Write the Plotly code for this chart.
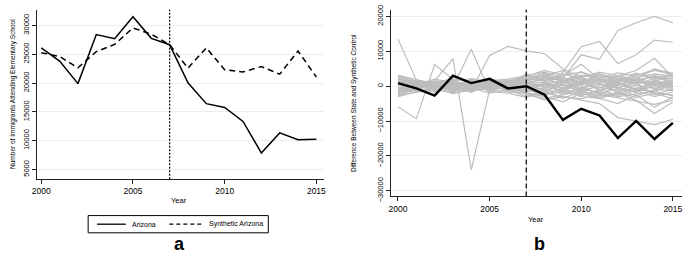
import plotly.graph_objects as go

years = list(range(2000, 2016))

arizona = [26100, 23800, 19900, 28400, 27700, 31500, 27750, 26650,
           20050, 16430, 15770, 13350, 7880, 11360, 10160, 10270]
synthetic_arizona = [25270, 24600, 22640, 25440, 26700, 29560, 28460, 26650,
                     22580, 26100, 22300, 21920, 22860, 21540, 25550, 21040]

arizona_gap = [900, -640, -2700, 3000, 900, 2100, -640, 0,
               -2450, -9650, -6490, -8380, -14860, -9920, -15140, -10540]

placebo_gaps = [
    [13500, 1800, -500, 1000, -800, 500, 1200, 2500, 3000, 1500, -500, 2000, 1000, -1500, 500, 1500],
    [-5900, -9300, 6200, 2000, -1500, 800, -500, -2000, -3000, -4500, -2000, -3500, -5000, -2500, -6000, -3000],
    [2500, 500, 1500, 7900, -24000, -1000, 1500, 2000, 1500, -1000, 2500, 1000, -2000, 1500, 3000, 2000],
    [1500, 200, -1000, -200, 10600, -1500, 800, 3000, 4000, 2500, 1000, 3500, 2000, 3000, 4500, 3500],
    [2000, 1000, 500, -500, -1200, 8800, 11400, 10100, 9300, 5000, 2500, 4000, 3000, 2000, 5000, 3000],
    [-1500, 500, 2000, 1000, 500, -500, 1000, 1000, 0, 4000, 11300, 12800, 6500, 9000, 13200, 12600],
    [1000, -500, 500, 1500, 0, 1000, 1500, 2000, 2000, 2300, 9000, 7700, 16000, 18200, 20000, 18200],
    [500, 1000, -500, 1200, 800, -300, 500, 3500, 1500, 3000, 6300, 2000, 3000, 3500, 2500, 3500],
    [-1000, 500, 1000, -500, 1500, 1000, -1000, 500, 2500, 1500, 3000, 2500, 3000, 4500, 8000, 2500],
    [-2500, -1000, 500, -1500, -500, -2000, -1000, -3000, -2000, -3000, -4000, -5000, -9000, -9900, -11000, -9500],
    [3000, 1500, 1000, -1000, 2000, 1000, -1500, -1000, -2500, -1500, -3000, -3500, -2000, -4000, -7800, -4500],
    [2800, 1200, 300, -800, 400, -600, 200, 1500, 2500, 1800, 3200, 2000, 1500, 2500, 3500, 2800],
    [-3000, -1500, -200, 600, -300, 400, -800, -1200, -2000, -1000, -2500, -1800, -3000, -2200, -1500, -2800],
    [1500, 800, -600, 1200, 200, 900, -400, 600, 1200, -500, 800, 1500, 600, 1200, 400, 900],
    [-1200, 300, 900, -400, 1100, -200, 500, -600, -1500, 500, -800, -300, -1200, 300, -600, -200],
    [2200, 600, -1200, 1800, -900, 1300, 300, 2400, 3500, 2000, 1200, 3000, 2200, 1800, 2600, 1500],
    [-2000, -600, 400, -1500, 800, -1100, 600, -2500, -3500, -2500, -1200, -2800, -1800, -3200, -2000, -3600],
    [600, -300, 1300, 500, -700, 300, -1200, 300, 600, -1500, 1800, 500, -400, 800, 1500, -300],
    [-500, 1000, -800, -900, 600, -1400, 900, -300, -700, 1200, -1000, -1600, 1000, -900, -300, 600],
    [3200, 1800, 600, 2000, 1300, 600, 1500, 2800, 4500, 3200, 4000, 2500, 3800, 3000, 4800, 3700],
    [-2600, -1800, -900, -2000, -1200, -700, -1600, -2000, -4000, -3000, -3600, -2400, -3400, -4200, -5200, -4000],
    [1000, -800, 500, 2500, 1500, -500, 200, 1000, 1800, 3500, 2000, 1200, 2800, 1500, 600, 1800],
    [-800, 400, -1500, -300, -1800, 800, -400, -800, 400, -2000, -600, 800, -1500, -600, 1000, -1400],
    [400, 1500, 1000, -1200, 300, 1700, -700, 1800, -500, 900, 2500, -1000, 1400, 2500, 200, 1100],
    [-1600, -400, 1500, 800, -1000, -800, 1300, -1500, 1000, -800, 400, 1800, -800, -1700, 1800, 300],
    [2500, 300, -300, 1500, 2200, 1200, -300, 500, -1200, 600, -1800, 400, 1200, -1000, -1500, 500],
    [-2200, 700, 200, -2200, -500, 200, 1800, -400, 800, -1800, 1400, -1200, 200, 1000, -2500, -800],
    [1800, -1200, 1500, 300, 1800, -1800, 600, 2000, 2800, 4500, 1500, 2000, 900, 3800, 2000, 2400],
    [-400, -1500, -1000, 1600, -1600, 1000, -1500, -1800, -2800, -500, -2800, -1000, -2600, -1200, -3000, -1600],
    [900, 200, 700, -600, 900, 400, 1000, 2200, 1500, 2600, 500, 3400, 1800, 600, 2200, 3000],
    [-1000, 100, -400, 700, -200, -300, -200, -1000, -600, -2400, -400, -2200, -600, -2800, -1000, -1200],
    [200, 900, 300, -200, 600, 1500, 2000, 3000, 1800, 800, 4200, 1000, 2400, 1200, 3000, 600],
    [-1800, -1000, 1200, -1800, 1200, -1500, -2000, -3200, -1200, -3500, -1500, -3200, -2200, -500, -2000, -2500],
    [2000, 1400, -100, 300, -1300, 2000, 1200, -500, 300, 1800, 1000, -500, 2000, 1000, 1200, 200],
    [-300, -700, -1800, 1000, 300, -1000, 200, 1200, -300, 200, -1200, 2000, -300, -1800, 200, -600],
    [1300, 500, 800, -1400, -400, 600, -900, -1500, -500, 1500, 200, -2500, 500, 2000, -800, 1000],
    [-2800, -200, -600, 400, 1000, -600, 700, 1500, 3800, 1000, 2800, 3500, 1000, -1000, 1200, 3800],
]

series_names = ["Arizona", "Synthetic Arizona"]
treatment_year = 2007
xticks = [2000, 2005, 2010, 2015]
yticks_a = [5000, 10000, 15000, 20000, 25000, 30000]
yticks_b = [-30000, -20000, -10000, 0, 10000, 20000]

W, H = 685, 257
FONT = "Liberation Sans, Arial, sans-serif"
GRID = "#e6eef0"

fig = go.Figure()

# Panel a
fig.add_trace(go.Scatter(x=years, y=arizona, mode="lines", name=series_names[0],
                         showlegend=False,
                         line=dict(color="black", width=1.5), xaxis="x", yaxis="y"))
fig.add_trace(go.Scatter(x=years, y=synthetic_arizona, mode="lines", name=series_names[1],
                         showlegend=False,
                         line=dict(color="black", width=1.5, dash="6px,4px"), xaxis="x", yaxis="y"))

# Panel b
for g in placebo_gaps:
    fig.add_trace(go.Scatter(x=years, y=g, mode="lines", showlegend=False,
                             line=dict(color="#bdbdbd", width=1.2), xaxis="x2", yaxis="y2",
                             hoverinfo="skip"))
fig.add_trace(go.Scatter(x=years, y=arizona_gap, mode="lines", showlegend=False,
                         line=dict(color="black", width=2.4), xaxis="x2", yaxis="y2"))

def px_x(p):
    return p / W

def px_y(p):
    return 1 - p / H

axis_common = dict(showline=True, linecolor="#222", linewidth=1, ticks="outside",
                   ticklen=4, tickcolor="#222", zeroline=False)

fig.update_layout(
    width=W, height=H, margin=dict(l=0, r=0, t=0, b=0),
    paper_bgcolor="white", plot_bgcolor="white",
    font=dict(family=FONT, color="black"),
    xaxis=dict(domain=[px_x(32), px_x(322)], range=[1999.75, 2015.4], tickvals=xticks,
               showgrid=False, tickfont=dict(size=8.5, color="black"), anchor="y", **axis_common),
    yaxis=dict(domain=[px_y(182), px_y(5)], range=[3330, 32700], tickvals=yticks_a,
               tickformat="d",
               showgrid=True, gridcolor=GRID, tickangle=-90, tickfont=dict(size=7.5, color="black"),
               anchor="x", **axis_common),
    xaxis2=dict(domain=[px_x(390), px_x(684)], range=[1999.62, 2015.5], tickvals=xticks,
                showgrid=False, tickfont=dict(size=8.5, color="black"), anchor="y2", **axis_common),
    yaxis2=dict(domain=[px_y(200), px_y(5)], range=[-31600, 21900], tickvals=yticks_b,
                tickformat="d",
                showgrid=True, gridcolor=GRID, tickangle=-90, tickfont=dict(size=7.5, color="black"),
                anchor="x2", **axis_common),
    showlegend=False,
)

fig.add_shape(type="line", xref="x", yref="y domain", x0=treatment_year, x1=treatment_year,
              y0=0, y1=1, line=dict(color="black", width=1.2, dash="2px,1.5px"))
fig.add_shape(type="line", xref="x2", yref="y2 domain", x0=treatment_year, x1=treatment_year,
              y0=0, y1=1, line=dict(color="black", width=1.2, dash="5px,3px"))

# Legend box for panel a (Stata style)
fig.add_shape(type="rect", xref="paper", yref="paper",
              x0=px_x(84), x1=px_x(266), y0=px_y(238), y1=px_y(220),
              line=dict(color="black", width=1), fillcolor="white")
fig.add_shape(type="line", xref="paper", yref="paper",
              x0=px_x(93), x1=px_x(122), y0=px_y(229), y1=px_y(229),
              line=dict(color="black", width=1.3))
fig.add_shape(type="line", xref="paper", yref="paper",
              x0=px_x(166), x1=px_x(200), y0=px_y(229), y1=px_y(229),
              line=dict(color="black", width=1.3, dash="4px,3px"))

annots = [
    dict(text="Number of Immigrants Attending Elementary School", x=px_x(8), y=px_y(93),
         textangle=-90, font=dict(size=6.5)),
    dict(text="Difference Between State and Synthetic Control", x=px_x(352), y=px_y(102),
         textangle=-90, font=dict(size=6.5)),
    dict(text="Year", x=px_x(176), y=px_y(204), font=dict(size=7.5)),
    dict(text="Year", x=px_x(536), y=px_y(224), font=dict(size=7.5)),
    dict(text="<b>a</b>", x=px_x(176), y=px_y(250), font=dict(size=18)),
    dict(text="<b>b</b>", x=px_x(540), y=px_y(250), font=dict(size=18)),
    dict(text=series_names[0], x=px_x(126), y=px_y(229), xanchor="left", font=dict(size=7)),
    dict(text=series_names[1], x=px_x(204), y=px_y(229), xanchor="left", font=dict(size=7)),
]
for a in annots:
    kw = dict(xref="paper", yref="paper", showarrow=False, xanchor="center", yanchor="middle")
    kw.update(a)
    fig.add_annotation(**kw)

fig.write_html("out.html", post_script="document.body.style.margin='0';",
               config={"displayModeBar": False})
